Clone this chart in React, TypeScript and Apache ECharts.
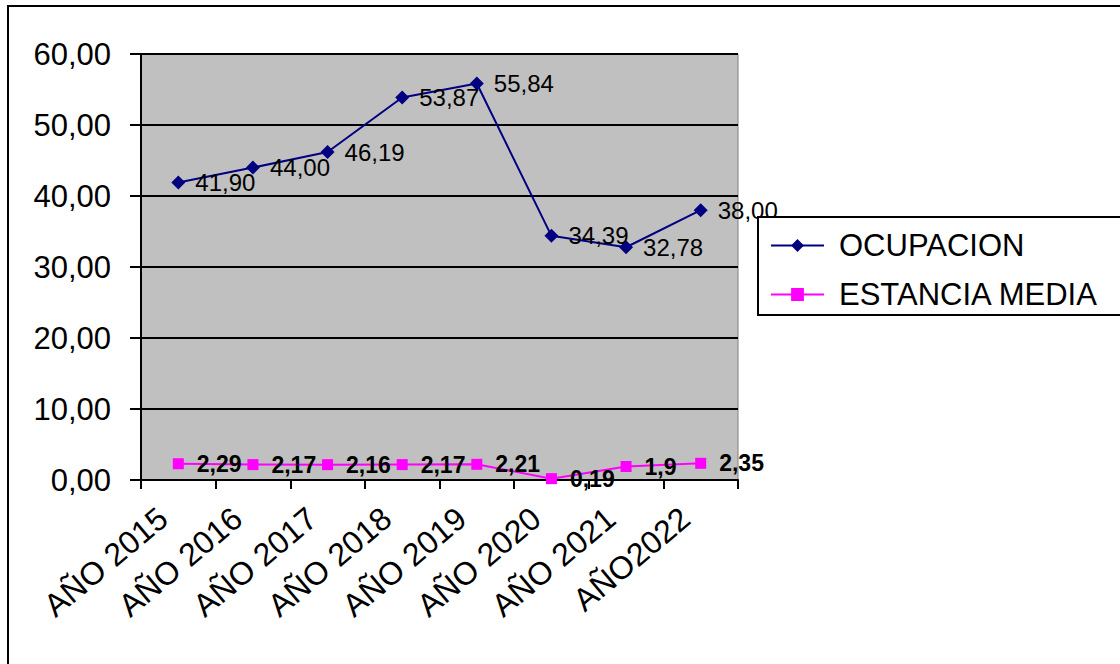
import React, { useEffect, useRef } from "react";
import * as echarts from "echarts";

const categories = [
  "AÑO 2015",
  "AÑO 2016",
  "AÑO 2017",
  "AÑO 2018",
  "AÑO 2019",
  "AÑO 2020",
  "AÑO 2021",
  "AÑO2022",
];
const ocupacion = [41.9, 44.0, 46.19, 53.87, 55.84, 34.39, 32.78, 38.0];
const estanciaMedia = [2.29, 2.17, 2.16, 2.17, 2.21, 0.19, 1.9, 2.35];
const yTicks = { min: 0, max: 60, interval: 10 };

const FONT = "'Liberation Sans', Arial, sans-serif";
const comma = (s: string) => s.replace(".", ",");

export default function App() {
  const ref = useRef<HTMLDivElement>(null);

  useEffect(() => {
    if (!ref.current) return;
    const chart = echarts.init(ref.current, undefined, { renderer: "svg" });
    chart.setOption({
      animation: false,
      backgroundColor: "#ffffff",
      textStyle: { fontFamily: FONT, color: "#000" },
      graphic: [
        {
          type: "rect",
          shape: { x: 8, y: 6, width: 1300, height: 800 },
          style: { fill: "none", stroke: "#000", lineWidth: 2 },
          silent: true,
          z: -1,
        },
      ],
      grid: {
        left: 141,
        top: 54,
        width: 597,
        height: 426,
        show: true,
        backgroundColor: "#c0c0c0",
        borderColor: "#808080",
        borderWidth: 1,
      },
      legend: {
        orient: "vertical",
        left: 758,
        top: 217,
        padding: [13, 40, 5, 12],
        itemGap: 18,
        itemWidth: 53,
        itemHeight: 16,
        borderColor: "#000",
        borderWidth: 2,
        backgroundColor: "#fff",
        textStyle: {
          fontFamily: FONT,
          fontSize: 31,
          color: "#000",
          lineHeight: 30,
          padding: [0, 0, 0, 10],
        },
        data: ["OCUPACION", "ESTANCIA MEDIA"],
      },
      xAxis: {
        type: "category",
        data: categories,
        boundaryGap: true,
        axisLine: { show: true, lineStyle: { color: "#000", width: 2 } },
        axisTick: {
          show: true,
          length: 9,
          interval: 0,
          lineStyle: { color: "#000", width: 2 },
        },
        axisLabel: {
          interval: 0,
          rotate: 40,
          margin: 21,
          padding: [0, 20, 0, 0],
          fontFamily: FONT,
          fontSize: 32,
          color: "#000",
        },
      },
      yAxis: {
        type: "value",
        min: yTicks.min,
        max: yTicks.max,
        interval: yTicks.interval,
        axisLine: { show: true, lineStyle: { color: "#000", width: 2 } },
        axisTick: { show: true, length: 11, lineStyle: { color: "#000", width: 2 } },
        splitLine: { show: true, lineStyle: { color: "#000", width: 2 } },
        axisLabel: {
          margin: 30,
          fontFamily: FONT,
          fontSize: 31,
          color: "#000",
          formatter: (v: number) => comma(v.toFixed(2)),
        },
      },
      series: [
        {
          name: "OCUPACION",
          type: "line",
          data: ocupacion,
          symbol: "diamond",
          symbolSize: 14,
          color: "#000080",
          lineStyle: { color: "#000080", width: 2 },
          itemStyle: { color: "#000080" },
          label: {
            show: true,
            position: "right",
            distance: 10,
            fontFamily: FONT,
            fontSize: 24,
            color: "#000",
            formatter: (p: any) => comma(Number(p.value).toFixed(2)),
          },
          z: 3,
        },
        {
          name: "ESTANCIA MEDIA",
          type: "line",
          data: estanciaMedia,
          symbol: "rect",
          symbolSize: 11,
          color: "#ff00ff",
          lineStyle: { color: "#ff00ff", width: 2 },
          itemStyle: { color: "#ff00ff" },
          label: {
            show: true,
            position: "right",
            distance: 13,
            fontFamily: FONT,
            fontSize: 23,
            fontWeight: "bold",
            color: "#000",
            formatter: (p: any) => comma(String(p.value)),
          },
          z: 4,
        },
      ],
    });
    return () => chart.dispose();
  }, []);

  return (
    <div
      ref={ref}
      style={{ position: "fixed", left: 0, top: 0, width: 1120, height: 664 }}
    />
  );
}
